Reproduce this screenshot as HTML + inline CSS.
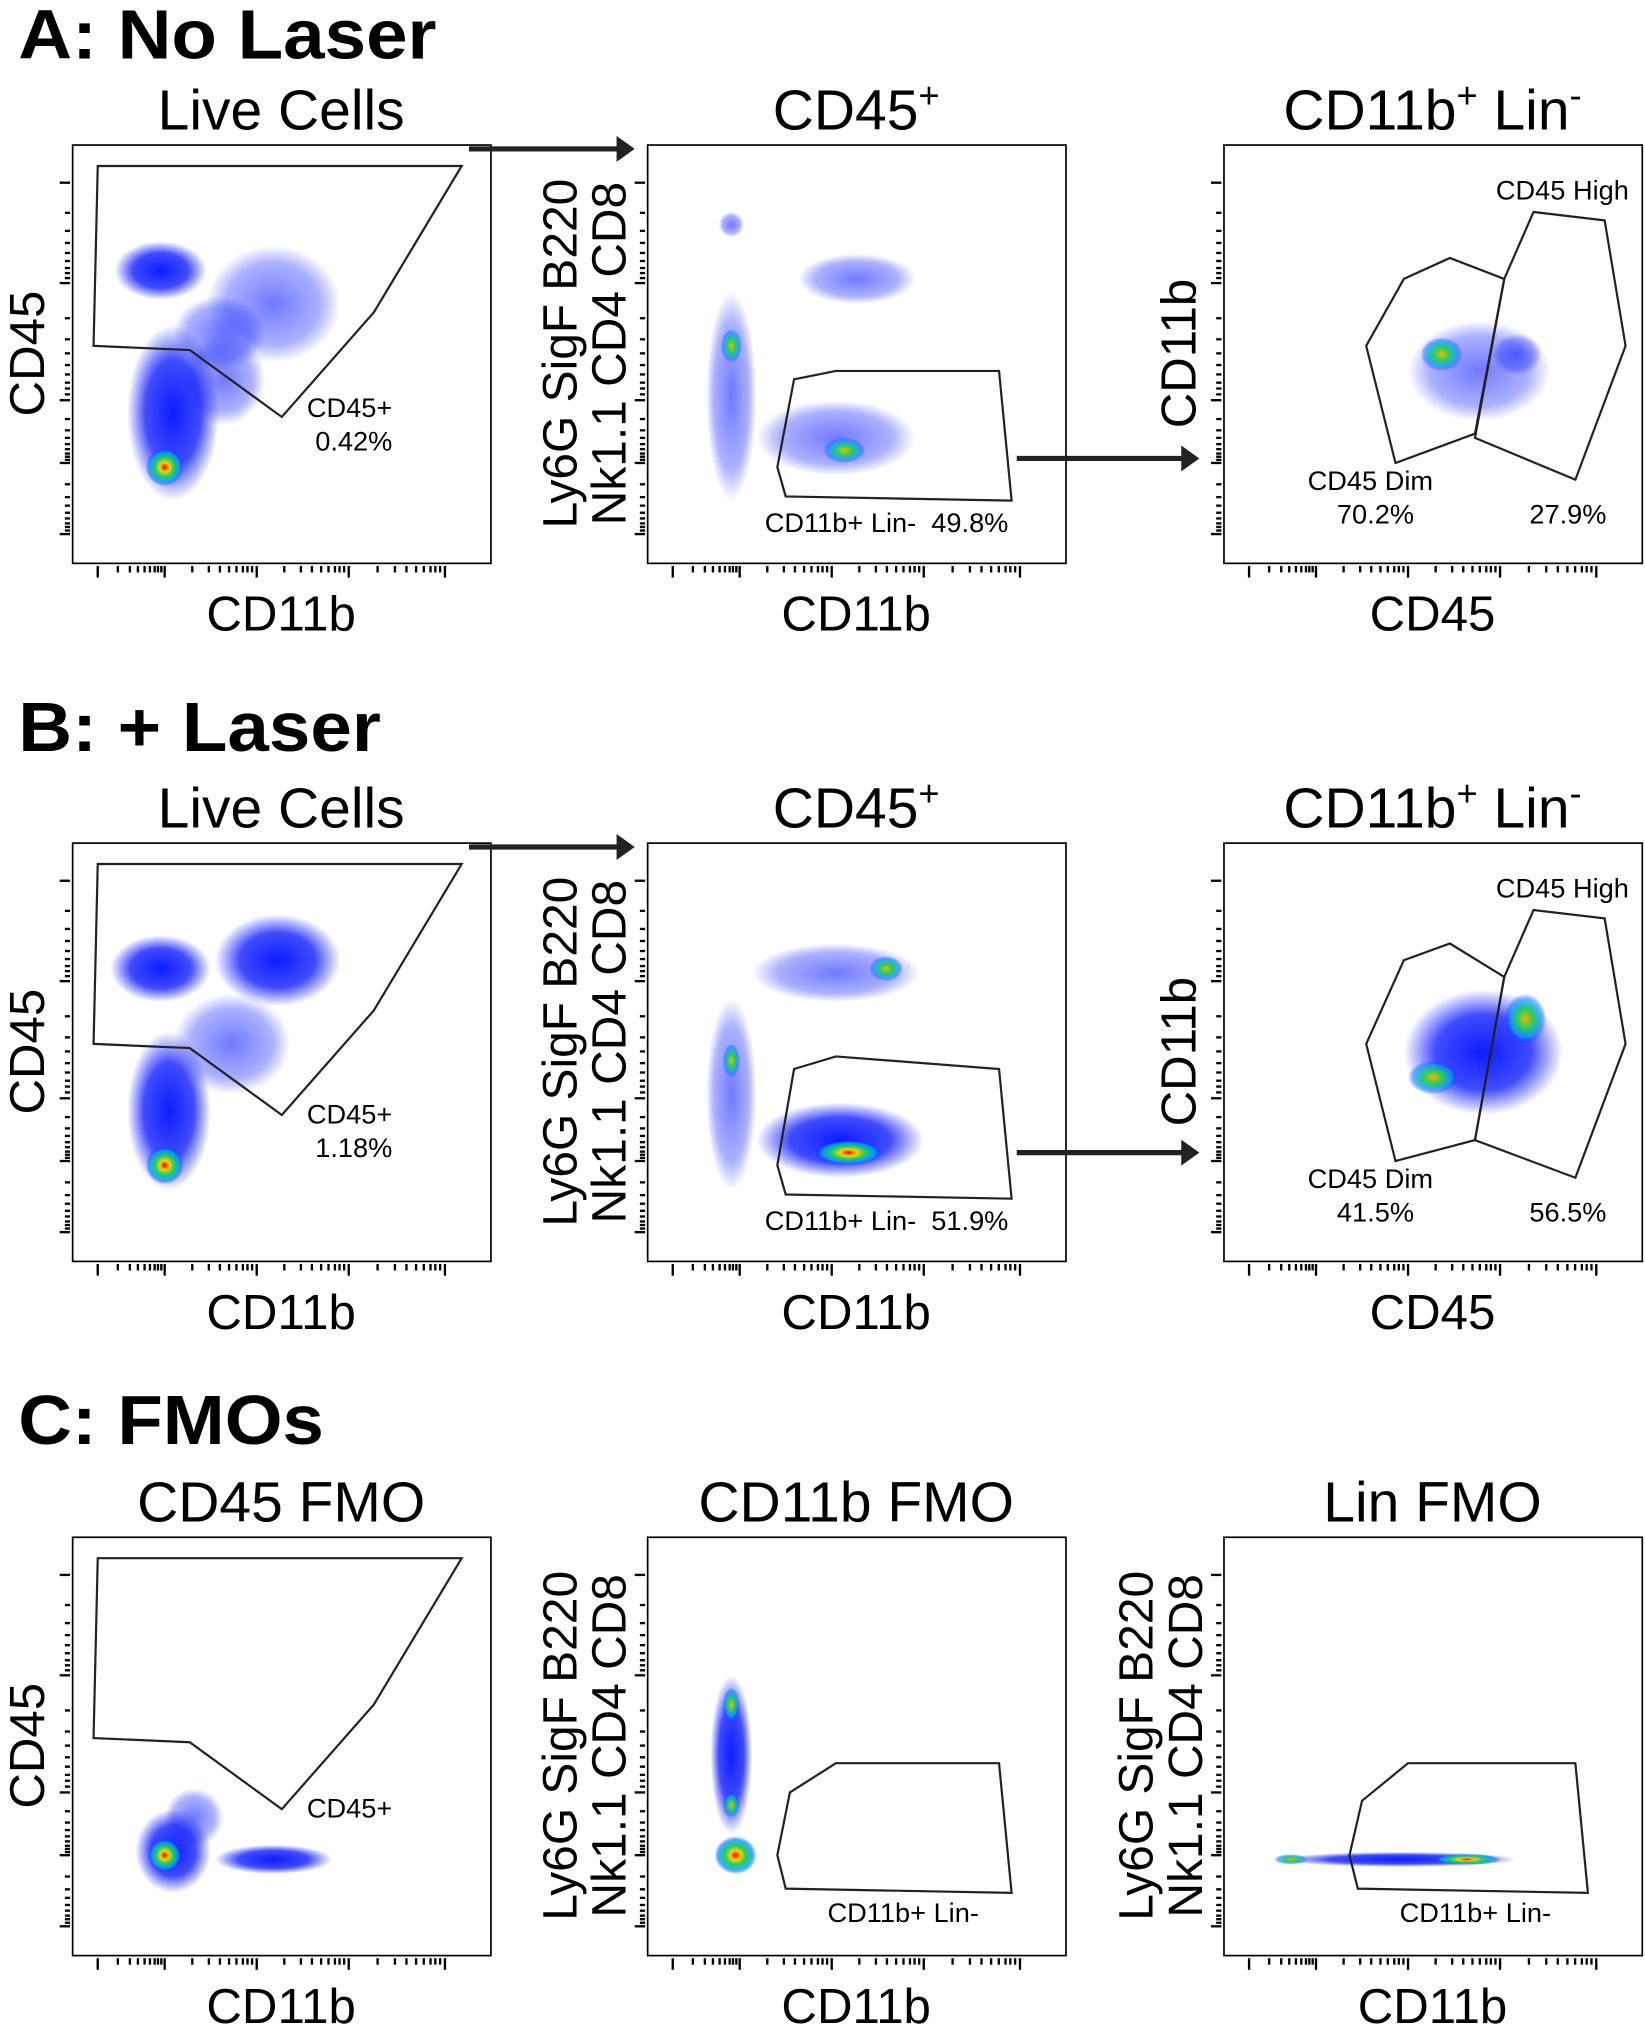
<!DOCTYPE html>
<html><head><meta charset="utf-8">
<style>
html,body{margin:0;padding:0;background:#fff;}
svg{display:block;font-family:"Liberation Sans",Arial,sans-serif;}
</style></head>
<body>
<svg id="fig" width="1645" height="2032" viewBox="0 0 1270 1569" xmlns="http://www.w3.org/2000/svg">
<defs>
<radialGradient id="gB"><stop offset="0" stop-color="#0010ff" stop-opacity="0.95"/><stop offset="0.6" stop-color="#0010ff" stop-opacity="0.75"/><stop offset="1" stop-color="#0010ff" stop-opacity="0"/></radialGradient>
<radialGradient id="gb"><stop offset="0" stop-color="#1020ff" stop-opacity="0.6"/><stop offset="0.7" stop-color="#1020ff" stop-opacity="0.35"/><stop offset="1" stop-color="#1020ff" stop-opacity="0"/></radialGradient>
<radialGradient id="gh"><stop offset="0" stop-color="#e00000"/><stop offset="0.25" stop-color="#ffd000"/><stop offset="0.5" stop-color="#20d060"/><stop offset="0.8" stop-color="#00a0ff" stop-opacity="0.8"/><stop offset="1" stop-color="#0010ff" stop-opacity="0"/></radialGradient>
<radialGradient id="gg"><stop offset="0" stop-color="#ffb000"/><stop offset="0.35" stop-color="#30d050"/><stop offset="0.75" stop-color="#00a0ff" stop-opacity="0.7"/><stop offset="1" stop-color="#0010ff" stop-opacity="0"/></radialGradient>
</defs>
<g id="layer"></g>
</svg>
<script>
const plotOrigins = [[56,112],[500,112],[945,112],[56,651],[500,651],[945,651],[56,1187],[500,1187],[945,1187]];
const plotTitles = ["Live Cells","CD45+","CD11b+ Lin-","Live Cells","CD45+","CD11b+ Lin-","CD45 FMO","CD11b FMO","Lin FMO"];
const xLabels = ["CD11b","CD11b","CD45","CD11b","CD11b","CD45","CD11b","CD11b","CD11b"];
const yLabels = ["CD45","LIN","CD11b","CD45","LIN","CD11b","CD45","LIN","LIN"];
// Clusters in axis units (0-100, y up): cx, cy, rx, ry, kind
const clusters = [
 [[24,36,11,21,'B'],[36,44,10,11,'b'],[21,70,11,7,'B'],[48,62,16,14,'b'],[35,55,11,9,'b'],[22,23,4.5,4.5,'h']],
 [[20,40,6,25,'b'],[20,52,2.5,4,'g'],[45,30,19,9,'b'],[50,68,14,6,'b'],[47,27,5,3,'g'],[20,81,3,3,'b']],
 [[61,46,17,12,'b'],[52,50,5,4,'g'],[70,50,6,5,'b']],
 [[23,36,10,19,'B'],[38,52,14,12,'b'],[21,70,12,8,'B'],[49,72,15,11,'B'],[22,23,4.5,4.5,'h']],
 [[20,40,6,23,'b'],[20,48,2,4,'g'],[45,69,20,7,'b'],[46,29,20,9,'B'],[48,26,8,3,'h'],[57,70,4,3,'g']],
 [[62,50,19,15,'B'],[72,58,5,6,'g'],[50,44,6,4,'g']],
 [[24,25,9,10,'B'],[48,23,14,3.5,'B'],[29,33,7,7,'b'],[22,24,4,4,'h']],
 [[20,48,5,19,'B'],[20,60,2,4,'g'],[21,24,5,4.5,'h'],[20,36,2,3,'g']],
 [[42,23,28,1.8,'B'],[58,23,8,1.3,'h'],[16,23,4,1.2,'g']]
];
const gates = [
 [[[6,95],[93,95],[72,60],[50,35],[28,51],[5,52]]],
 [[[35,44],[45,46],[84,46],[87,15],[33,16],[31,23]]],
 [[[34,52],[43,68],[54,73],[67,68],[60,31],[41,24]],[[67,68],[74,84],[91,82],[96,52],[84,20],[60,30]]],
 [[[6,95],[93,95],[72,60],[50,35],[28,51],[5,52]]],
 [[[35,46],[45,49],[84,46],[87,15],[33,16],[31,23]]],
 [[[34,52],[43,72],[54,76],[67,68],[60,29],[41,24]],[[67,68],[74,84],[91,82],[96,52],[84,20],[60,29]]],
 [[[6,95],[93,95],[72,60],[50,35],[28,51],[5,52]]],
 [[[34,39],[45,46],[84,46],[87,15],[33,16],[31,24]]],
 [[[33,37],[44,46],[84,46],[87,15],[32,16],[30,24]]]
];
const gateLabels = [
 [0,"CD45+",56,35],[0,"0.42%",58,27],
 [1,"CD11b+ Lin-  49.8%",28,7.5],
 [2,"CD45 High",65,87],[2,"CD45 Dim",20,17.5],[2,"70.2%",27,9.5],[2,"27.9%",73,9.5],
 [3,"CD45+",56,33],[3,"1.18%",58,25],
 [4,"CD11b+ Lin-  51.9%",28,7.5],
 [5,"CD45 High",65,87],[5,"CD45 Dim",20,17.5],[5,"41.5%",27,9.5],[5,"56.5%",73,9.5],
 [6,"CD45+",56,33],
 [7,"CD11b+ Lin-",43,8],
 [8,"CD11b+ Lin-",42,8]
];
const xMajorTicks = [6,22,44,66,89];
const yMajorTicks = [91,67,39,24,7];

const NS="http://www.w3.org/2000/svg";
const layer=document.getElementById('layer');
const S=3.23;
function mk(t,a,p){const e=document.createElementNS(NS,t);for(const k in a)e.setAttribute(k,a[k]);(p||layer).appendChild(e);return e;}
function sx(i,u){return plotOrigins[i][0]+u*S;}
function sy(i,v){return plotOrigins[i][1]+323-v*S;}

[["A: No Laser",45,323],["B: + Laser",580,280],["C: FMOs",1115,236]].forEach(h=>{
 const t=mk('text',{x:14,y:h[1],'font-size':54,'font-weight':'bold',textLength:h[2],lengthAdjust:'spacingAndGlyphs'});t.textContent=h[0];
 
 
});

plotOrigins.forEach((o,i)=>{
 const g=mk('g',{});
 
 
 const cx=o[0]+161;
 const tt=mk('text',{x:cx,y:o[1]-12,'font-size':44,'text-anchor':'middle'},g);
 
 
 const ttl=plotTitles[i];
 if(ttl==="CD45+"){tt.innerHTML='CD45<tspan font-size="28" dy="-17">+</tspan>';}
 else if(ttl==="CD11b+ Lin-"){tt.innerHTML='CD11b<tspan font-size="28" dy="-17">+</tspan><tspan dy="17"> Lin</tspan><tspan font-size="28" dy="-17">-</tspan>';}
 else tt.textContent=ttl;
 const cg=mk('g',{},g);
 clusters[i].forEach(c=>{
  const el=mk('ellipse',{cx:sx(i,c[0]),cy:sy(i,c[1]),rx:c[2]*S,ry:c[3]*S,fill:'url(#g'+c[4]+')'},cg);
  
  
 });
 const fr=mk('rect',{x:o[0],y:o[1],width:323,height:323,fill:'none',stroke:'#000','stroke-width':1.3},g);
 
 
 gates[i].forEach(p=>{
  const pg=mk('polygon',{points:p.map(q=>sx(i,q[0])+','+sy(i,q[1])).join(' '),fill:'none',stroke:'#222','stroke-width':1.7},g);
  
  
 });
 const tg=mk('g',{stroke:'#000','stroke-width':1.8},g);
 
 
 xMajorTicks.forEach((u,k)=>{
  const X=sx(i,u);mk('line',{x1:X,x2:X,y1:o[1]+325,y2:o[1]+334},tg);
  if(k<xMajorTicks.length-1){const span=xMajorTicks[k+1]-u;[.3,.48,.6,.7,.78,.85,.9,.95].forEach(f=>{const Xm=sx(i,u+span*f);mk('line',{x1:Xm,x2:Xm,y1:o[1]+325,y2:o[1]+330},tg);});}
 });
 yMajorTicks.forEach((v,k)=>{
  const Y=sy(i,v);mk('line',{x1:o[0]-2,x2:o[0]-10,y1:Y,y2:Y},tg);
  if(k<yMajorTicks.length-1){const span=v-yMajorTicks[k+1];[.3,.48,.6,.7,.78,.85,.9,.95].forEach(f=>{const Ym=sy(i,v-span*f);mk('line',{x1:o[0]-2,x2:o[0]-6,y1:Ym,y2:Ym},tg);});}
 });
 const xl=mk('text',{x:cx,y:o[1]+375,'font-size':38,'text-anchor':'middle'},g);
 xl.textContent=xLabels[i];
 
 
 if(yLabels[i]==="LIN"){
  const a=mk('text',{transform:`translate(${o[0]-55},${o[1]+161}) rotate(-90)`,'font-size':37,'text-anchor':'middle'},g);
  a.textContent="Ly6G SigF B220";
  
  
  const b=mk('text',{transform:`translate(${o[0]-17},${o[1]+161}) rotate(-90)`,'font-size':37,'text-anchor':'middle'},g);
  b.textContent="Nk1.1 CD4 CD8";
  
  
 } else {
  const a=mk('text',{transform:`translate(${o[0]-22},${o[1]+161}) rotate(-90)`,'font-size':38,'text-anchor':'middle'},g);
  a.textContent=yLabels[i];
  
  
 }
});
gateLabels.forEach(l=>{
 const t=mk('text',{x:sx(l[0],l[2]),y:sy(l[0],l[3]),'font-size':21,'xml:space':'preserve'});
 t.setAttributeNS('http://www.w3.org/XML/1998/namespace','xml:space','preserve');
 t.textContent=l[1];
 
 
});
[[362,115,490,115],[785,354,926,354],[362,654,490,654],[785,890,926,890]].forEach(a=>{
 const g=mk('g',{});
 
 
 mk('line',{x1:a[0],y1:a[1],x2:a[2]-12,y2:a[3],stroke:'#222','stroke-width':4},g);
 mk('polygon',{points:`${a[2]},${a[3]} ${a[2]-14},${a[3]-10} ${a[2]-14},${a[3]+10}`,fill:'#222'},g);
});
</script>
</body></html>
